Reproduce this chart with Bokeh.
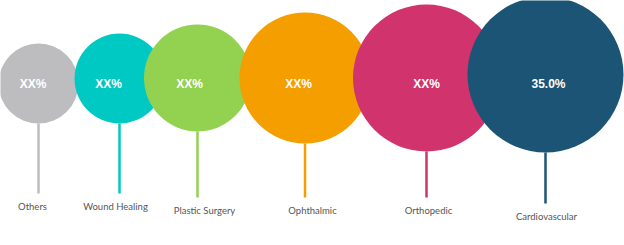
from bokeh.plotting import figure
from bokeh.models import ColumnDataSource, Range1d
from bokeh.core.properties import value
from bokeh.embed import file_html
from bokeh.resources import INLINE

# Data
categories = ["Others", "Wound Healing", "Plastic Surgery", "Ophthalmic", "Orthopedic", "Cardiovascular"]
share_labels = ["XX%", "XX%", "XX%", "XX%", "XX%", "35.0%"]
bubble_radius = [40, 45, 53.5, 65.5, 73.5, 78]
colors = ["#BDBDBF", "#00C9C4", "#93D150", "#F49E00", "#D1336C", "#1B5475"]

# Layout (pixel-like units)
center_x = [38, 119, 197, 304.5, 426, 545]
center_y = [83, 78, 77.5, 77.5, 77.5, 74]
text_x = [32.5, 108, 189, 298, 426, 548]
stem_end = [193, 193, 197, 197, 197, 203]
label_x = [32, 115, 204, 312, 428, 546]

stem_top = [cy + r for cy, r in zip(center_y, bubble_radius)]
label_y = [s + 13 for s in stem_end]

src = ColumnDataSource(dict(
    cat=categories, lab=share_labels, r=bubble_radius, color=colors,
    cx=center_x, cy=center_y, tx=text_x, ty=[83.5] * 6,
    st=stem_top, se=stem_end, lx=label_x, ly=label_y,
))

p = figure(width=624, height=245, output_backend="svg", toolbar_location=None,
           x_range=Range1d(0, 624), y_range=Range1d(245, 0), min_border=0,
           background_fill_color="white", border_fill_color="white")
p.axis.visible = False
p.grid.visible = False
p.outline_line_color = None

p.segment(x0="cx", y0="st", x1="cx", y1="se", line_color="color", line_width=2.5, source=src)
p.circle(x="cx", y="cy", radius="r", fill_color="color", line_color=None, source=src)

p.text(x="tx", y="ty", text="lab", text_color="white", text_font=value("Liberation Sans"),
       text_font_style="bold", text_font_size="12px", text_align="center",
       text_baseline="middle", source=src)
p.text(x="lx", y="ly", text="cat", text_color="#555555", text_font=value("Lato"),
       text_font_size="9.5px", text_align="center", text_baseline="middle", source=src)

open("out.html", "w").write(file_html(p, INLINE))
